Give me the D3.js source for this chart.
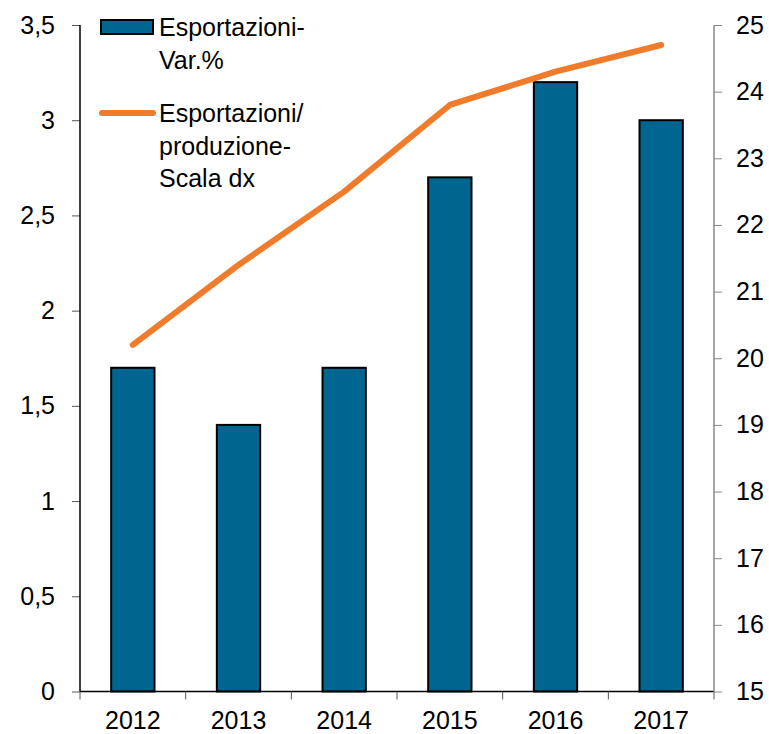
<!DOCTYPE html>
<html>
<head lang="it">
	<meta charset="UTF-8">
	<title></title>
	<script src="https://cdn.jsdelivr.net/npm/d3@7"></script>
	<style>
		body { margin: 0; background: #fff; }
		text { font-family: "Liberation Sans", Arial, sans-serif; }
	</style>
</head>
<body>
<script>

	var anni = ["2012", "2013", "2014", "2015", "2016", "2017"];
	var esportazioniVar = [1.7, 1.4, 1.7, 2.7, 3.2, 3.0];
	var esportazioniProd = [20.2, 21.4, 22.5, 23.8, 24.3, 24.7];
	var tickSx = [0, 0.5, 1, 1.5, 2, 2.5, 3, 3.5];
	var tickDx = [15, 16, 17, 18, 19, 20, 21, 22, 23, 24, 25];

	var W = 769, H = 734;
	var mLeft = 80, mRight = 714, mTop = 25, mBottom = 691.5;
	var FS = "25px";

	var it = d3.formatLocale({decimal: ",", thousands: ".", grouping: [3], currency: ["", " €"]});
	var fmt = it.format("~g");

	var svg = d3.select("body").append("svg")
			.attr("width", W).attr("height", H);

	var x = d3.scaleBand().domain(anni).range([mLeft, mRight]).paddingInner(0.59).paddingOuter(0.295);
	var xTick = d3.scaleBand().domain(anni).range([mLeft, mRight]);
	var ySx = d3.scaleLinear().domain([0, 3.5]).range([mBottom, mTop]);
	var yDx = d3.scaleLinear().domain([15, 25]).range([mBottom, mTop]);

	// barre
	svg.append("g").selectAll("rect")
			.data(anni)
			.enter().append("rect")
			.attr("x", function (d) { return x(d); })
			.attr("width", x.bandwidth())
			.attr("y", function (d, i) { return ySx(esportazioniVar[i]); })
			.attr("height", function (d, i) { return mBottom - ySx(esportazioniVar[i]); })
			.style("fill", "#00668f")
			.style("stroke", "#000")
			.style("stroke-width", 2);

	// asse x
	var gx = svg.append("g").attr("transform", "translate(0," + mBottom + ")");
	gx.append("line").attr("x1", mLeft).attr("x2", mRight).attr("stroke", "#000").attr("stroke-width", 1.5);
	gx.selectAll(".t").data(anni.concat(["end"])).enter().append("line")
			.attr("x1", function (d, i) { return mLeft + i * xTick.step(); })
			.attr("x2", function (d, i) { return mLeft + i * xTick.step(); })
			.attr("y1", 0).attr("y2", 8)
			.attr("stroke", "#555").attr("stroke-width", 1);
	gx.selectAll("text").data(anni).enter().append("text")
			.attr("x", function (d) { return xTick(d) + xTick.bandwidth() / 2; })
			.attr("y", 37.5)
			.attr("text-anchor", "middle")
			.style("font-size", FS)
			.text(function (d) { return d; });

	// asse sinistro
	var gl = svg.append("g").attr("transform", "translate(" + mLeft + ",0)")
			.call(d3.axisLeft(ySx).tickValues(tickSx).tickFormat(fmt).tickSize(8).tickPadding(17));
	gl.select(".domain").remove();
	gl.append("line").attr("y1", mTop).attr("y2", mBottom).attr("stroke", "#000").attr("stroke-width", 1.5);
	gl.selectAll(".tick line").attr("stroke", "#555");
	gl.selectAll(".tick text").style("font-size", FS).attr("fill", "#000").attr("font-family", null);

	// asse destro
	var gr = svg.append("g").attr("transform", "translate(" + mRight + ",0)")
			.call(d3.axisRight(yDx).tickValues(tickDx).tickSize(8).tickPadding(14));
	gr.select(".domain").remove();
	gr.append("line").attr("y1", mTop).attr("y2", mBottom).attr("stroke", "#888").attr("stroke-width", 1.5);
	gr.selectAll(".tick line").attr("stroke", "#888");
	gr.selectAll(".tick text").style("font-size", FS).attr("fill", "#000").attr("font-family", null);

	// linea
	var line = d3.line()
			.x(function (d, i) { return xTick(anni[i]) + xTick.bandwidth() / 2; })
			.y(function (d) { return yDx(d); });
	svg.append("path")
			.datum(esportazioniProd)
			.attr("d", line)
			.attr("fill", "none")
			.attr("stroke", "#f07b2a")
			.attr("stroke-width", 6)
			.attr("stroke-linecap", "round")
			.attr("stroke-linejoin", "round");

	// legenda
	var leg = svg.append("g");
	leg.append("rect").attr("x", 101).attr("y", 20).attr("width", 52).attr("height", 14)
			.style("fill", "#00668f").style("stroke", "#000").style("stroke-width", 2);
	leg.append("line").attr("x1", 102).attr("x2", 153).attr("y1", 113).attr("y2", 113)
			.attr("stroke", "#f07b2a").attr("stroke-width", 6).attr("stroke-linecap", "round");
	var righe = [["Esportazioni-", 36], ["Var.%", 69], ["Esportazioni/", 122], ["produzione-", 155], ["Scala dx", 187]];
	leg.selectAll("text").data(righe).enter().append("text")
			.attr("x", 159).attr("y", function (d) { return d[1]; })
			.style("font-size", FS)
			.text(function (d) { return d[0]; });

</script>
</body>
</html>
